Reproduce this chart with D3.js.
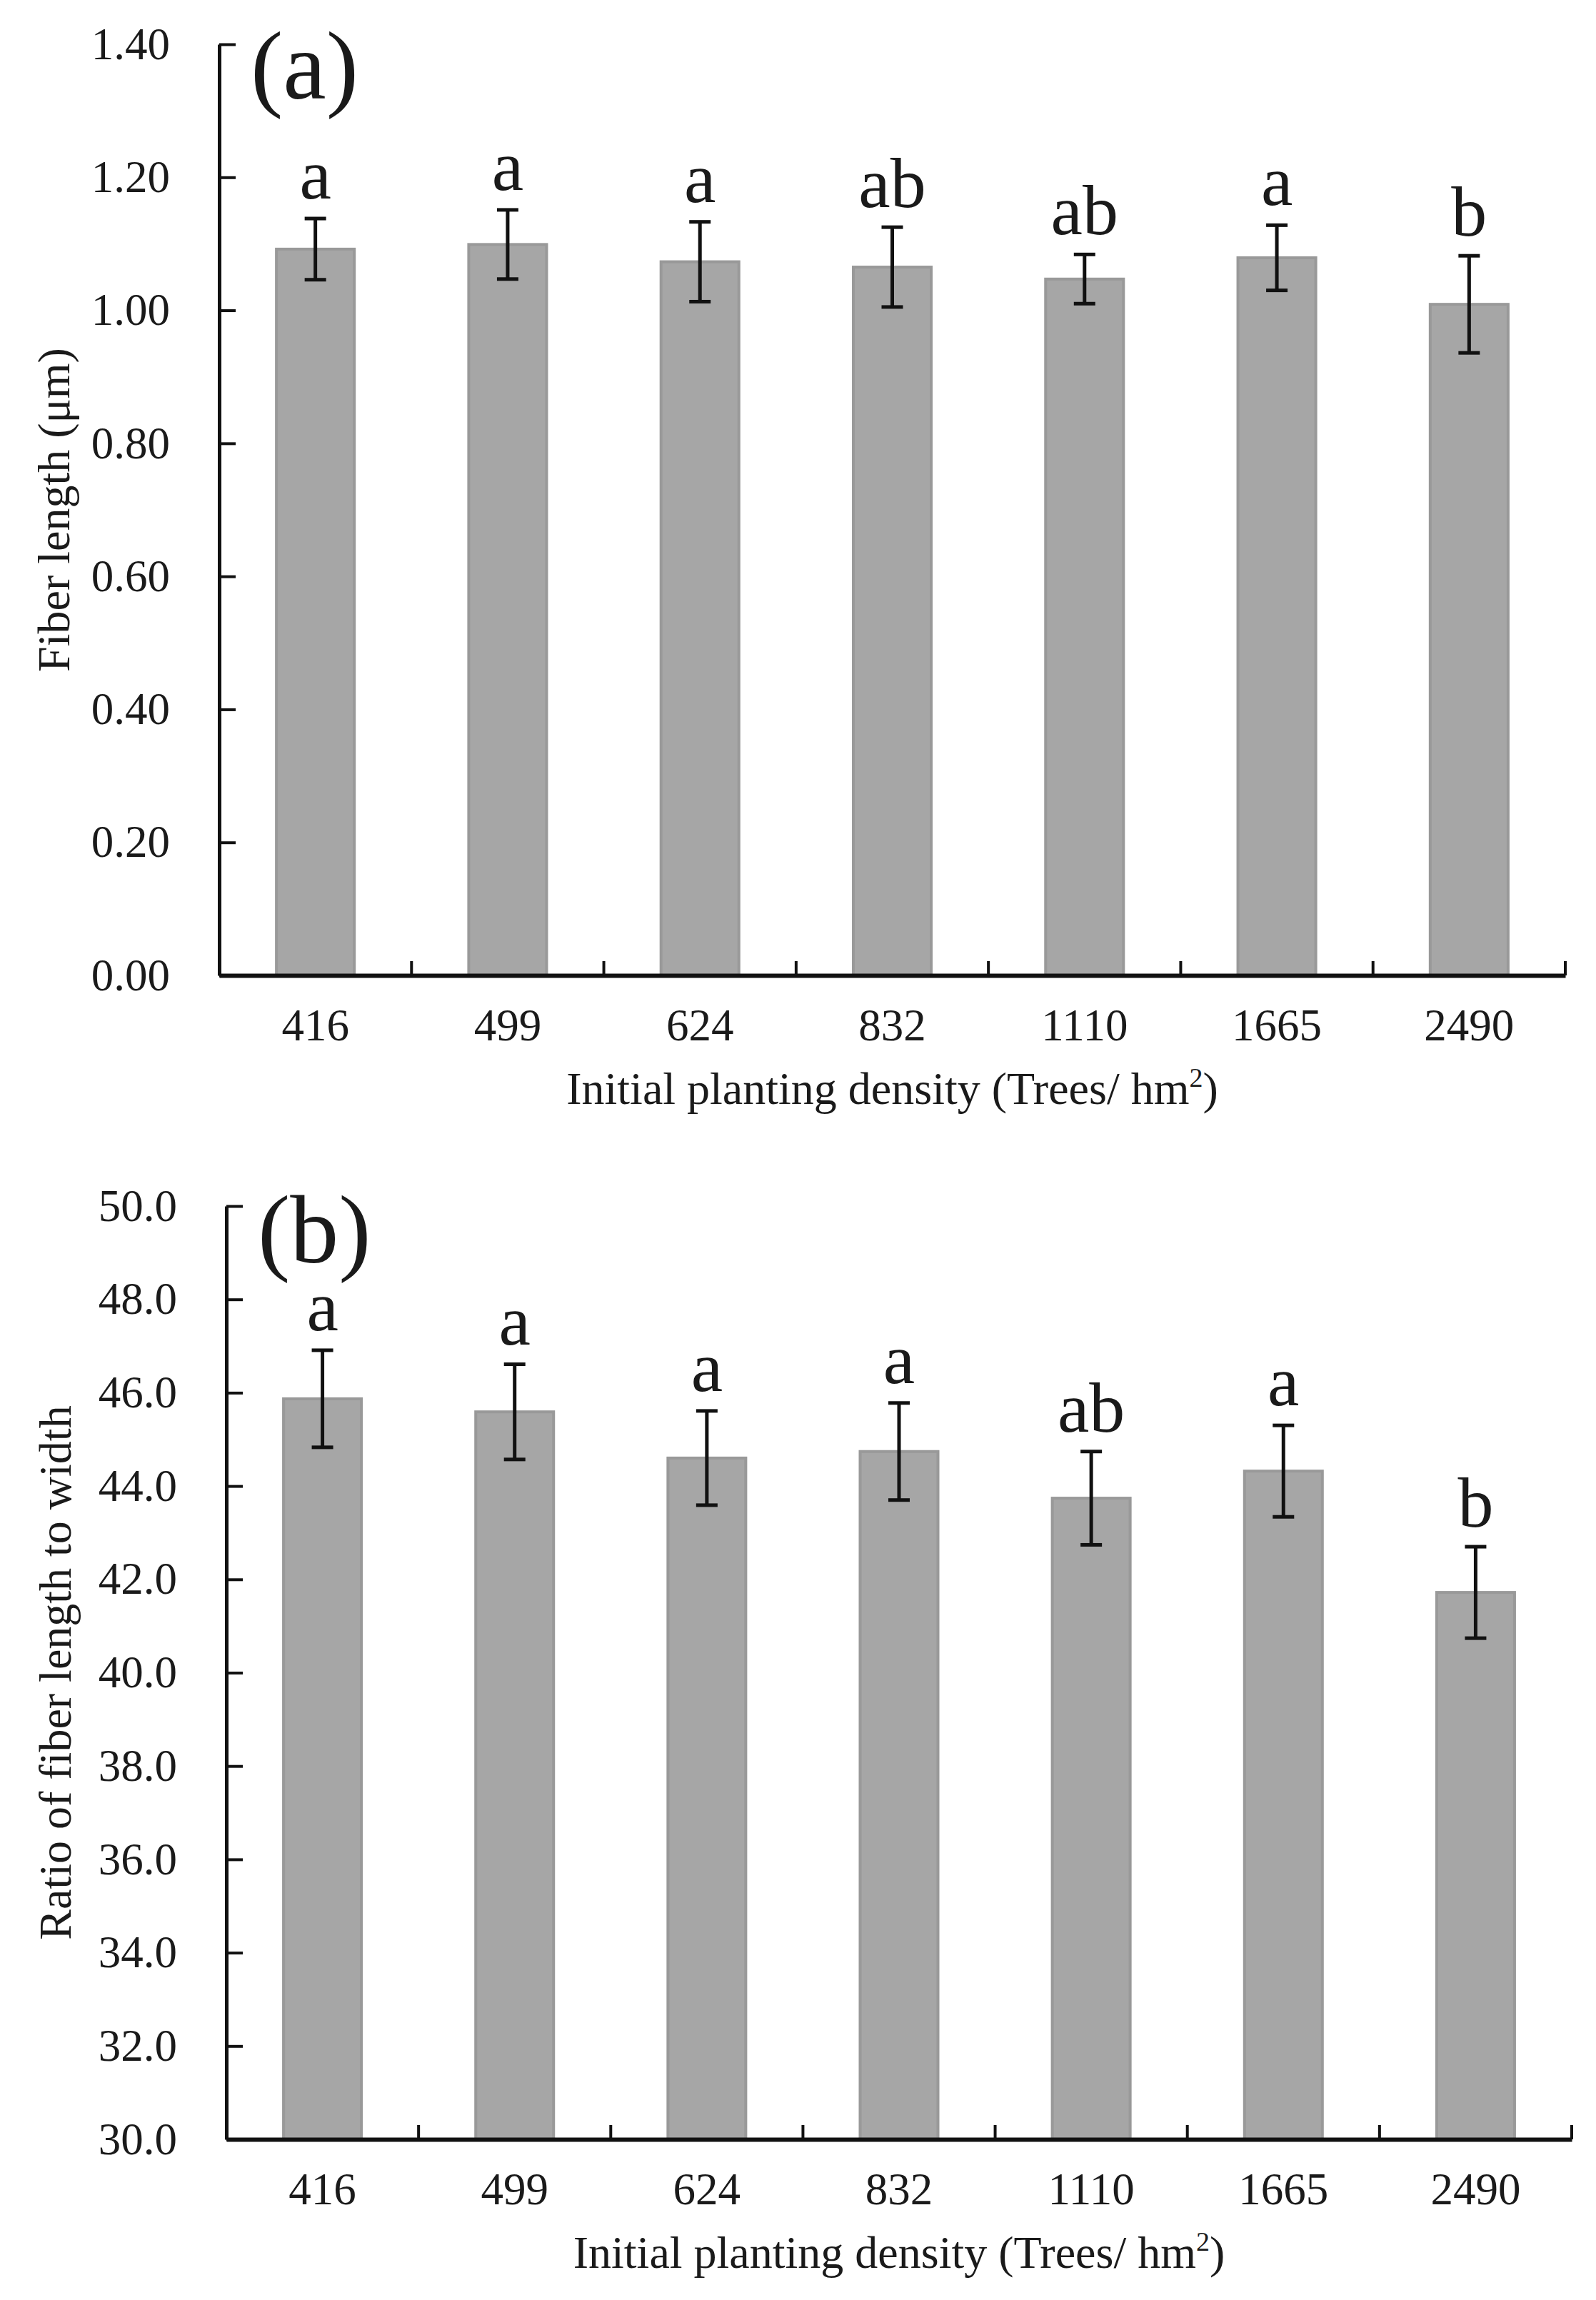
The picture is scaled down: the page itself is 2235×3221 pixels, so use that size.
<!DOCTYPE html>
<html>
<head>
<meta charset="utf-8">
<script src="https://cdn.jsdelivr.net/npm/d3@7"></script>
<style>
  body { margin: 0; background: #fff; }
  svg text { font-family: "Liberation Serif", "Tinos", "DejaVu Serif", "Times New Roman", serif; fill: #1a1a1a; }
</style>
</head>
<body>
<svg id="chart"></svg>
<script>

var width = 2235;
var height = 3221;

// planting densities (Trees/hm2)
var categories = ["416", "499", "624", "832", "1110", "1665", "2490"];

// panel (a) fiber length
var lengthMean = [1.092, 1.099, 1.073, 1.065, 1.047, 1.079, 1.009];
var lengthErr = [0.046, 0.052, 0.060, 0.060, 0.037, 0.049, 0.073];
var lengthLetters = ["a", "a", "a", "ab", "ab", "a", "b"];
var lengthTicks = [0, 0.2, 0.4, 0.6, 0.8, 1.0, 1.2, 1.4];

// panel (b) ratio of fiber length to width
var ratioMean = [45.87, 45.59, 44.60, 44.74, 43.74, 44.32, 41.72];
var ratioErr = [1.04, 1.02, 1.01, 1.04, 1.00, 0.98, 0.98];
var ratioLetters = ["a", "a", "a", "a", "ab", "a", "b"];
var ratioTicks = [30, 32, 34, 36, 38, 40, 42, 44, 46, 48, 50];

var serif = "'Liberation Serif', Tinos, 'DejaVu Serif', 'Times New Roman', serif";

var svg = d3.select("#chart")
    .attr("width", width)
    .attr("height", height);

function panel(o) {
  var g = svg.append("g")
      .attr("transform", "translate(" + o.left + "," + o.top + ")");

  var x = d3.scaleBand()
      .domain(categories)
      .range([0, o.w])
      .paddingInner(0.595)
      .paddingOuter(0.2975);

  var y = d3.scaleLinear()
      .domain(o.domain)
      .range([o.h, 0]);

  var rows = categories.map(function (c, i) {
    return { cat: c, mean: o.mean[i], err: o.err[i], letter: o.letters[i] };
  });

  // bars
  g.selectAll("rect.bar")
    .data(rows)
    .join("rect")
      .attr("class", "bar")
      .attr("x", function (d) { return x(d.cat); })
      .attr("y", function (d) { return y(d.mean); })
      .attr("width", x.bandwidth())
      .attr("height", function (d) { return o.h - y(d.mean); })
      .style("fill", "#a6a6a6")
      .style("stroke", "#999")
      .style("stroke-width", 4);

  // error bars
  var cx = function (d) { return x(d.cat) + x.bandwidth() / 2; };
  var eb = g.selectAll("g.err").data(rows).join("g").attr("class", "err")
      .style("stroke", "#111").style("stroke-width", 5);
  eb.append("line")
      .attr("x1", cx).attr("x2", cx)
      .attr("y1", function (d) { return y(d.mean + d.err); })
      .attr("y2", function (d) { return y(d.mean - d.err); });
  eb.append("line")
      .attr("x1", function (d) { return cx(d) - 15; })
      .attr("x2", function (d) { return cx(d) + 15; })
      .attr("y1", function (d) { return y(d.mean + d.err); })
      .attr("y2", function (d) { return y(d.mean + d.err); });
  eb.append("line")
      .attr("x1", function (d) { return cx(d) - 15; })
      .attr("x2", function (d) { return cx(d) + 15; })
      .attr("y1", function (d) { return y(d.mean - d.err); })
      .attr("y2", function (d) { return y(d.mean - d.err); });

  // significance letters
  g.selectAll("text.letter")
    .data(rows)
    .join("text")
      .attr("class", "letter")
      .attr("x", cx)
      .attr("y", function (d) { return y(d.mean + d.err) - 28; })
      .attr("text-anchor", "middle")
      .style("font-family", serif)
      .style("font-size", "100px")
      .text(function (d) { return d.letter; });

  // Y axis
  var ya = g.append("g")
    .call(d3.axisLeft(y)
      .tickValues(o.ticks)
      .tickFormat(o.fmt)
      .tickSizeInner(-23)
      .tickSizeOuter(0)
      .tickPadding(69));
  ya.attr("font-family", serif);
  ya.select(".domain").style("stroke", "#111").style("stroke-width", 5);
  ya.selectAll(".tick line").style("stroke", "#111").style("stroke-width", 4);
  ya.selectAll(".tick text").style("font-size", "63px").style("font-family", serif);

  // X axis
  var xa = g.append("g")
      .attr("transform", "translate(0," + o.h + ")")
    .call(d3.axisBottom(x).tickSize(0).tickPadding(46));
  xa.attr("font-family", serif);
  xa.select(".domain").style("stroke", "#111").style("stroke-width", 6);
  xa.selectAll(".tick text").style("font-size", "63px").style("font-family", serif);

  // category boundary ticks (inside)
  g.selectAll("line.bt")
    .data(categories)
    .join("line")
      .attr("class", "bt")
      .attr("x1", function (d) { return x(d) + x.bandwidth() + (x.step() - x.bandwidth()) / 2; })
      .attr("x2", function (d) { return x(d) + x.bandwidth() + (x.step() - x.bandwidth()) / 2; })
      .attr("y1", o.h)
      .attr("y2", o.h - 20)
      .style("stroke", "#111")
      .style("stroke-width", 4);

  // panel tag
  g.append("text")
      .attr("x", 44)
      .attr("y", o.tagY)
      .style("font-family", serif)
      .style("font-size", "136px")
      .text(o.tag);

  // axis titles
  var xt = g.append("text")
      .attr("x", o.w / 2)
      .attr("y", o.h + 180)
      .attr("text-anchor", "middle")
      .style("font-family", serif)
      .style("font-size", "64px");
  xt.append("tspan").text("Initial planting density (Trees/ hm");
  xt.append("tspan").attr("dy", -24).style("font-size", "38px").text("2");
  xt.append("tspan").attr("dy", 24).text(")");

  g.append("text")
      .attr("transform", "translate(" + (o.titleX - o.left) + "," + (o.h / 2) + ") rotate(-90)")
      .attr("text-anchor", "middle")
      .style("font-family", serif)
      .style("font-size", "64px")
      .text(o.ytitle);
}

panel({
  left: 307, top: 62, w: 1885, h: 1304,
  domain: [0, 1.4], ticks: lengthTicks, fmt: d3.format(".2f"),
  mean: lengthMean, err: lengthErr, letters: lengthLetters,
  tag: "(a)", tagY: 76, titleX: 97,
  ytitle: "Fiber length (\u03bcm)"
});

panel({
  left: 317, top: 1689, w: 1884, h: 1307,
  domain: [30, 50], ticks: ratioTicks, fmt: d3.format(".1f"),
  mean: ratioMean, err: ratioErr, letters: ratioLetters,
  tag: "(b)", tagY: 79, titleX: 99,
  ytitle: "Ratio of fiber length to width"
});

</script>
</body>
</html>
